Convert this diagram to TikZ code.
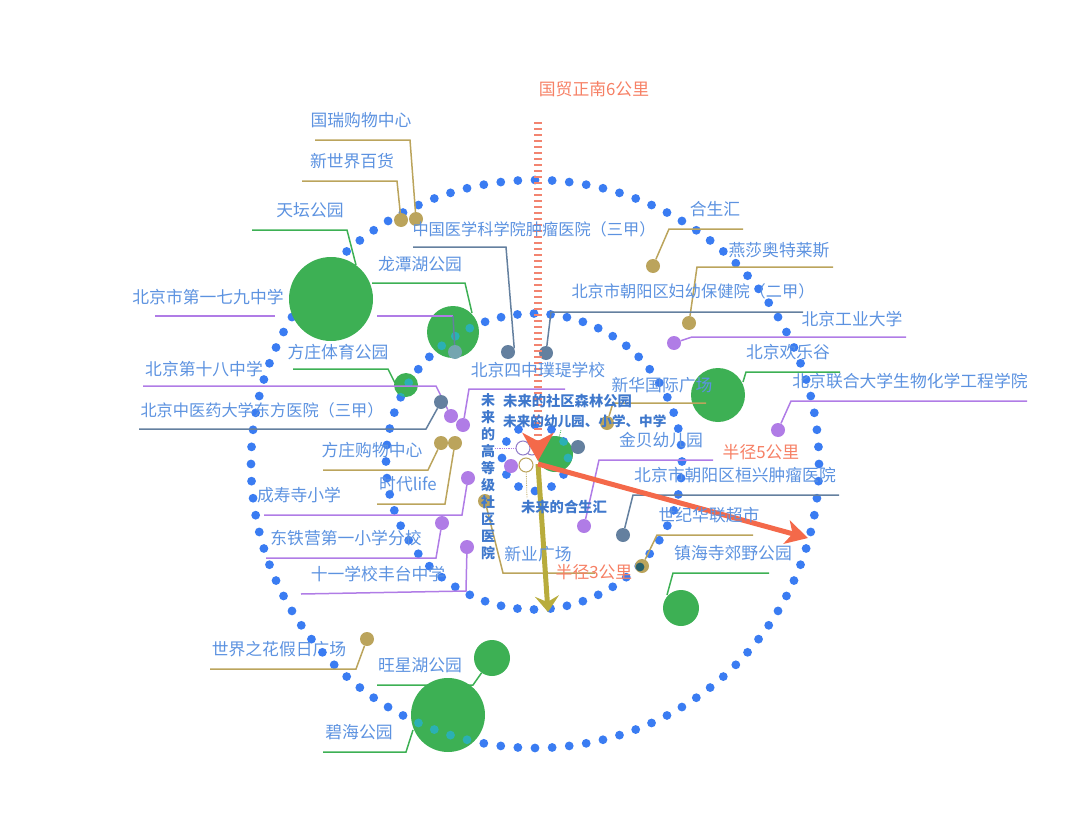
\documentclass[tikz,border=0pt]{standalone}
\usepackage{fontspec}
\setmainfont{Noto Sans CJK SC}
\usetikzlibrary{arrows.meta}
\definecolor{ringblue}{HTML}{3A7CF2}
\definecolor{ringteal}{HTML}{2BB0B4}
\definecolor{parkgreen}{HTML}{3DB054}
\definecolor{shopolive}{HTML}{BBA45C}
\definecolor{schoolpurple}{HTML}{B07CE6}
\definecolor{hospslate}{HTML}{64809F}
\definecolor{labelblue}{HTML}{5C92E0}
\definecolor{boldblue}{HTML}{3F78CC}
\definecolor{radiusred}{HTML}{F4694A}
\definecolor{radiusolive}{HTML}{B8AC3C}
\definecolor{dashred}{HTML}{F28470}
\definecolor{greypoi}{HTML}{74A5B0}
\newcommand{\ringdots}[1]{%
  \foreach \i in {1,...,104} \fill[#1] ({535+284*sin(\i*3.46154)},{464-284*cos(\i*3.46154)}) circle (4.4);
  \foreach \i in {1,...,56} \fill[#1] ({534+148*sin(\i*6.42857)},{461.5-148*cos(\i*6.42857)}) circle (4.4);
  \foreach \i in {1,...,12} \fill[#1] ({535+33*sin(\i*30)},{458-33*cos(\i*30)}) circle (4.4);
}
\tikzset{
  poilabel/.style={text=labelblue,font=\fontsize{16.8}{18}\selectfont,inner sep=0pt},
  longlabel/.style={text=labelblue,font=\fontsize{16.2}{18}\selectfont,inner sep=0pt},
  boldlabel/.style={text=boldblue,font=\fontsize{14.3}{16}\selectfont\bfseries,inner sep=0pt},
  redlabel/.style={text=radiusred!85!white,font=\fontsize{16.8}{18}\selectfont,inner sep=0pt},
  poi/.style={circle,inner sep=0pt,minimum size=14pt,fill=#1},
  park/.style={circle,inner sep=0pt,minimum size=#1,fill=parkgreen},
  openpoi/.style={circle,inner sep=0pt,minimum size=14pt,draw=#1,line width=1pt,fill=white},
  leader/.style={draw=#1,line width=1.5pt},
  guide/.style={draw=#1,line width=0.8pt,densely dotted},
}
\begin{document}
\begin{tikzpicture}[x=1pt,y=-1pt]
\useasboundingbox (0,0) rectangle (1080,835);
% rings
\ringdots{ringblue}
% parks
\node[park=84pt] (tiantan) at (331,299) {};
\node[park=52pt] (longtan) at (453,332) {};
\node[park=24pt] (fangzhuangty) at (406,385) {};
\node[park=54pt] (huanlegu) at (718,395) {};
\node[park=36pt] (zhenhai) at (681,608) {};
\node[park=36pt] (wangxing) at (492,658) {};
\node[park=74pt] (bihai) at (448,715) {};
\node[park=36pt] (senlin) at (555,454) {};
\foreach \cx/\cy/\r in {453/332/26,406/385/12,718/395/27,448/715/37,555/454/18}{
  \begin{scope}
    \clip (\cx,\cy) circle (\r);
    \ringdots{ringteal}
  \end{scope}
}
% free ends of the leaders
\coordinate (tiantanend) at (252,230);
\coordinate (longtanend) at (372,283);
\coordinate (fangzhuangtyend) at (293,369);
\coordinate (huanleguend) at (840,372);
\coordinate (zhenhaiend) at (769,573);
\coordinate (wangxingend) at (377,685);
\coordinate (bihaiend) at (323,752);
\coordinate (guoruiend) at (315,140);
\coordinate (xinshijieend) at (302,181);
\coordinate (heshengend) at (743,229);
\coordinate (yanshaend) at (833,267);
\coordinate (xinhuaend) at (706,403);
\coordinate (shijiend) at (753,535);
\coordinate (fzgouwuend) at (323,470);
\coordinate (shidaiend) at (377,504);
\coordinate (xinyeend) at (595,573);
\coordinate (shijieend) at (210,669);
\coordinate (yiqijiuend) at (155,316);
\coordinate (gongdaend) at (906,337);
\coordinate (lianheend) at (1027,401);
\coordinate (shibaend) at (143,386);
\coordinate (sizhongend) at (565,389);
\coordinate (jinbeiend) at (713,460);
\coordinate (chengshouend) at (264,515);
\coordinate (dongtieend) at (266,558);
\coordinate (shiyiend) at (301,594);
\coordinate (zhongguoend) at (413,247);
\coordinate (fuyouend) at (803,312);
\coordinate (zhongyiend) at (139,429);
\coordinate (huanxingend) at (839,495);
% purple line that runs behind the big park
\node[poi=greypoi] (yiqijiu) at (455,352) {};
\draw[leader=schoolpurple] (yiqijiuend) -- (275,316);
\draw[leader=schoolpurple] (377,316) -- (453,316);
\draw[leader=hospslate] (453,316) -- (yiqijiu);
% park leaders
\draw[leader=parkgreen] (356,265) -- (347,230) -- (tiantanend);
\draw[leader=parkgreen] (472,313) -- (465,283) -- (longtanend);
\draw[leader=parkgreen] (395,383) -- (388,369) -- (fangzhuangtyend);
\draw[leader=parkgreen] (743,382) -- (746,372) -- (huanleguend);
\draw[leader=parkgreen] (667,595) -- (673,573) -- (zhenhaiend);
\draw[leader=parkgreen] (wangxing) -- (473,685) -- (wangxingend);
\draw[leader=parkgreen] (413,730) -- (406,752) -- (bihaiend);
% shops
\node[poi=shopolive] (guorui) at (416,219) {};
\node[poi=shopolive] (xinshijie) at (401,220) {};
\node[poi=shopolive] (hesheng) at (653,266) {};
\node[poi=shopolive] (yansha) at (689,323) {};
\node[poi=shopolive] (xinhua) at (607,423) {};
\node[poi=shopolive] (shiji) at (642,566) {};
\node[poi=shopolive] (fzgouwu) at (441,443) {};
\node[poi=shopolive] (shidai) at (455,443) {};
\node[poi=shopolive] (xinye) at (485,501) {};
\node[poi=shopolive] (shijie) at (367,639) {};
\draw[leader=shopolive] (guorui) -- (410,140) -- (guoruiend);
\draw[leader=shopolive] (xinshijie) -- (397,181) -- (xinshijieend);
\draw[leader=shopolive] (hesheng) -- (669,229) -- (heshengend);
\draw[leader=shopolive] (yansha) -- (697,267) -- (yanshaend);
\draw[leader=shopolive] (xinhua) -- (613,403) -- (xinhuaend);
\draw[leader=shopolive] (shiji) -- (657,535) -- (shijiend);
\draw[leader=shopolive] (fzgouwu) -- (428,470) -- (fzgouwuend);
\draw[leader=shopolive] (shidai) -- (445,504) -- (shidaiend);
\draw[leader=shopolive] (xinye) -- (503,573) -- (xinyeend);
\draw[leader=shopolive] (shijie) -- (356,669) -- (shijieend);
\fill[ringblue!50!black!70!parkgreen] (640,567) circle (4.4);
% schools
\node[poi=schoolpurple] (gongda) at (674,343) {};
\node[poi=schoolpurple] (lianhe) at (778,430) {};
\node[poi=schoolpurple] (shiba) at (451,416) {};
\node[poi=schoolpurple] (sizhong) at (463,425) {};
\node[poi=schoolpurple] (jinbei) at (584,526) {};
\node[poi=schoolpurple] (chengshou) at (468,478) {};
\node[poi=schoolpurple] (dongtie) at (442,523) {};
\node[poi=schoolpurple] (shiyi) at (467,547) {};
\node[poi=schoolpurple] (youer) at (511,466) {};
\draw[leader=schoolpurple] (gongda) -- (692,337) -- (gongdaend);
\draw[leader=schoolpurple] (lianhe) -- (791,401) -- (lianheend);
\draw[leader=schoolpurple] (shiba) -- (436,386) -- (shibaend);
\draw[leader=schoolpurple] (sizhong) -- (469,389) -- (sizhongend);
\draw[leader=schoolpurple] (jinbei) -- (599,460) -- (jinbeiend);
\draw[leader=schoolpurple] (chengshou) -- (462,515) -- (chengshouend);
\draw[leader=schoolpurple] (dongtie) -- (436,558) -- (dongtieend);
\draw[leader=schoolpurple] (shiyi) -- (466,591) -- (shiyiend);
% hospitals
\node[poi=hospslate] (zhongguo) at (508,352) {};
\node[poi=hospslate] (fuyou) at (546,353) {};
\node[poi=hospslate] (zhongyi) at (441,402) {};
\node[poi=hospslate] (huanxing) at (623,535) {};
\node[poi=hospslate] (weilaiyy) at (578,447) {};
\draw[leader=hospslate] (zhongguo.30) -- (506,247) -- (zhongguoend);
\draw[leader=hospslate] (fuyou) -- (551,312) -- (fuyouend);
\draw[leader=hospslate] (zhongyi) -- (426,429) -- (zhongyiend);
\draw[leader=hospslate] (huanxing) -- (633,495) -- (huanxingend);
% future sites
\coordinate (openaend) at (495,448);
\coordinate (openbend) at (527,498);
\coordinate (senlinend) at (561,430);
\node[openpoi=schoolpurple!60!hospslate] (openc) at (532,448) {};
\node[openpoi=schoolpurple!60!hospslate] (opena) at (523,448) {};
\node[openpoi=shopolive] (openb) at (526,465) {};
\draw[guide=schoolpurple] (opena) -- (openaend);
\draw[guide=shopolive] (openb) -- (openbend);
\draw[guide=parkgreen] (senlin) -- (senlinend);
% radius arrows
\coordinate (center) at (538,464);
\coordinate (guomao) at (538,122);
\coordinate (southtip) at (538,461);
\coordinate (threetip) at (548,612);
\coordinate (fivetip) at (808,538);
\draw[draw=dashred,line width=8pt,dash pattern=on 2.2pt off 3.8pt,-{Stealth[length=28pt,width=31pt,inset=8pt,color=radiusred]}] (guomao) -- (southtip);
\draw[draw=radiusolive,line width=5pt,-{Stealth[length=16pt,width=24pt,inset=6pt]}] (center) -- (threetip);
\draw[draw=radiusred,line width=5pt,-{Stealth[length=22pt,width=24pt,inset=6pt]}] (center) -- (fivetip);
% labels
\node[poilabel] (guoruitext) at (361,120) {国瑞购物中心};
\node[poilabel] (xinshijietext) at (352,161) {新世界百货};
\node[poilabel] (tiantantext) at (310,210) {天坛公园};
\node[poilabel] (longtantext) at (420,264) {龙潭湖公园};
\node[longlabel] (zhongguotext) at (534,229) {中国医学科学院肿瘤医院（三甲）};
\node[poilabel] (heshengtext) at (715,209) {合生汇};
\node[poilabel] (yanshatext) at (779,250) {燕莎奥特莱斯};
\node[longlabel] (fuyoutext) at (693,291) {北京市朝阳区妇幼保健院（二甲）};
\node[poilabel] (gongdatext) at (852,319) {北京工业大学};
\node[poilabel] (yiqijiutext) at (208,297) {北京市第一七九中学};
\node[poilabel] (fangzhuangtytext) at (338,352) {方庄体育公园};
\node[poilabel] (huanlegutext) at (788,352) {北京欢乐谷};
\node[poilabel] (shibatext) at (204,369) {北京第十八中学};
\node[poilabel] (sizhongtext) at (538,370) {北京四中璞瑅学校};
\node[poilabel] (xinhuatext) at (662,385) {新华国际广场};
\node[poilabel] (lianhetext) at (910,381) {北京联合大学生物化学工程学院};
\node[longlabel] (zhongyitext) at (262,410) {北京中医药大学东方医院（三甲）};
\node[poilabel] (jinbeitext) at (661,440) {金贝幼儿园};
\node[poilabel] (fzgouwutext) at (372,450) {方庄购物中心};
\node[poilabel] (huanxingtext) at (735,475) {北京市朝阳区桓兴肿瘤医院};
\node[poilabel] (shidaitext) at (408,484) {时代life};
\node[poilabel] (chengshoutext) at (299,495) {成寿寺小学};
\node[poilabel] (shijitext) at (709,515) {世纪华联超市};
\node[poilabel] (dongtietext) at (346,538) {东铁营第一小学分校};
\node[poilabel] (xinyetext) at (538,554) {新业广场};
\node[poilabel] (zhenhaitext) at (733,553) {镇海寺郊野公园};
\node[poilabel] (shiyitext) at (378,574) {十一学校丰台中学};
\node[poilabel] (shijietext) at (279,649) {世界之花假日广场};
\node[poilabel] (wangxingtext) at (420,665) {旺星湖公园};
\node[poilabel] (bihaitext) at (359,732) {碧海公园};
\node[redlabel] (guomaotext) at (594,89) {国贸正南6公里};
\node[redlabel] (fivetext) at (761,452) {半径5公里};
\node[redlabel] (threetext) at (594,572) {半径3公里};
\node[boldlabel,anchor=west] (senlintext) at (503,401) {未来的社区森林公园};
\node[boldlabel,anchor=west,font=\fontsize{13.6}{16}\selectfont\bfseries] (youertext) at (503,421) {未来的幼儿园、小学、中学};
\node[boldlabel] (hesheng2text) at (564,507) {未来的合生汇};
\node[boldlabel,align=center,font=\fontsize{14}{17}\selectfont\bfseries] (yiyuantext) at (488,477) {未\\来\\的\\高\\等\\级\\社\\区\\医\\院};
\end{tikzpicture}
\end{document}
